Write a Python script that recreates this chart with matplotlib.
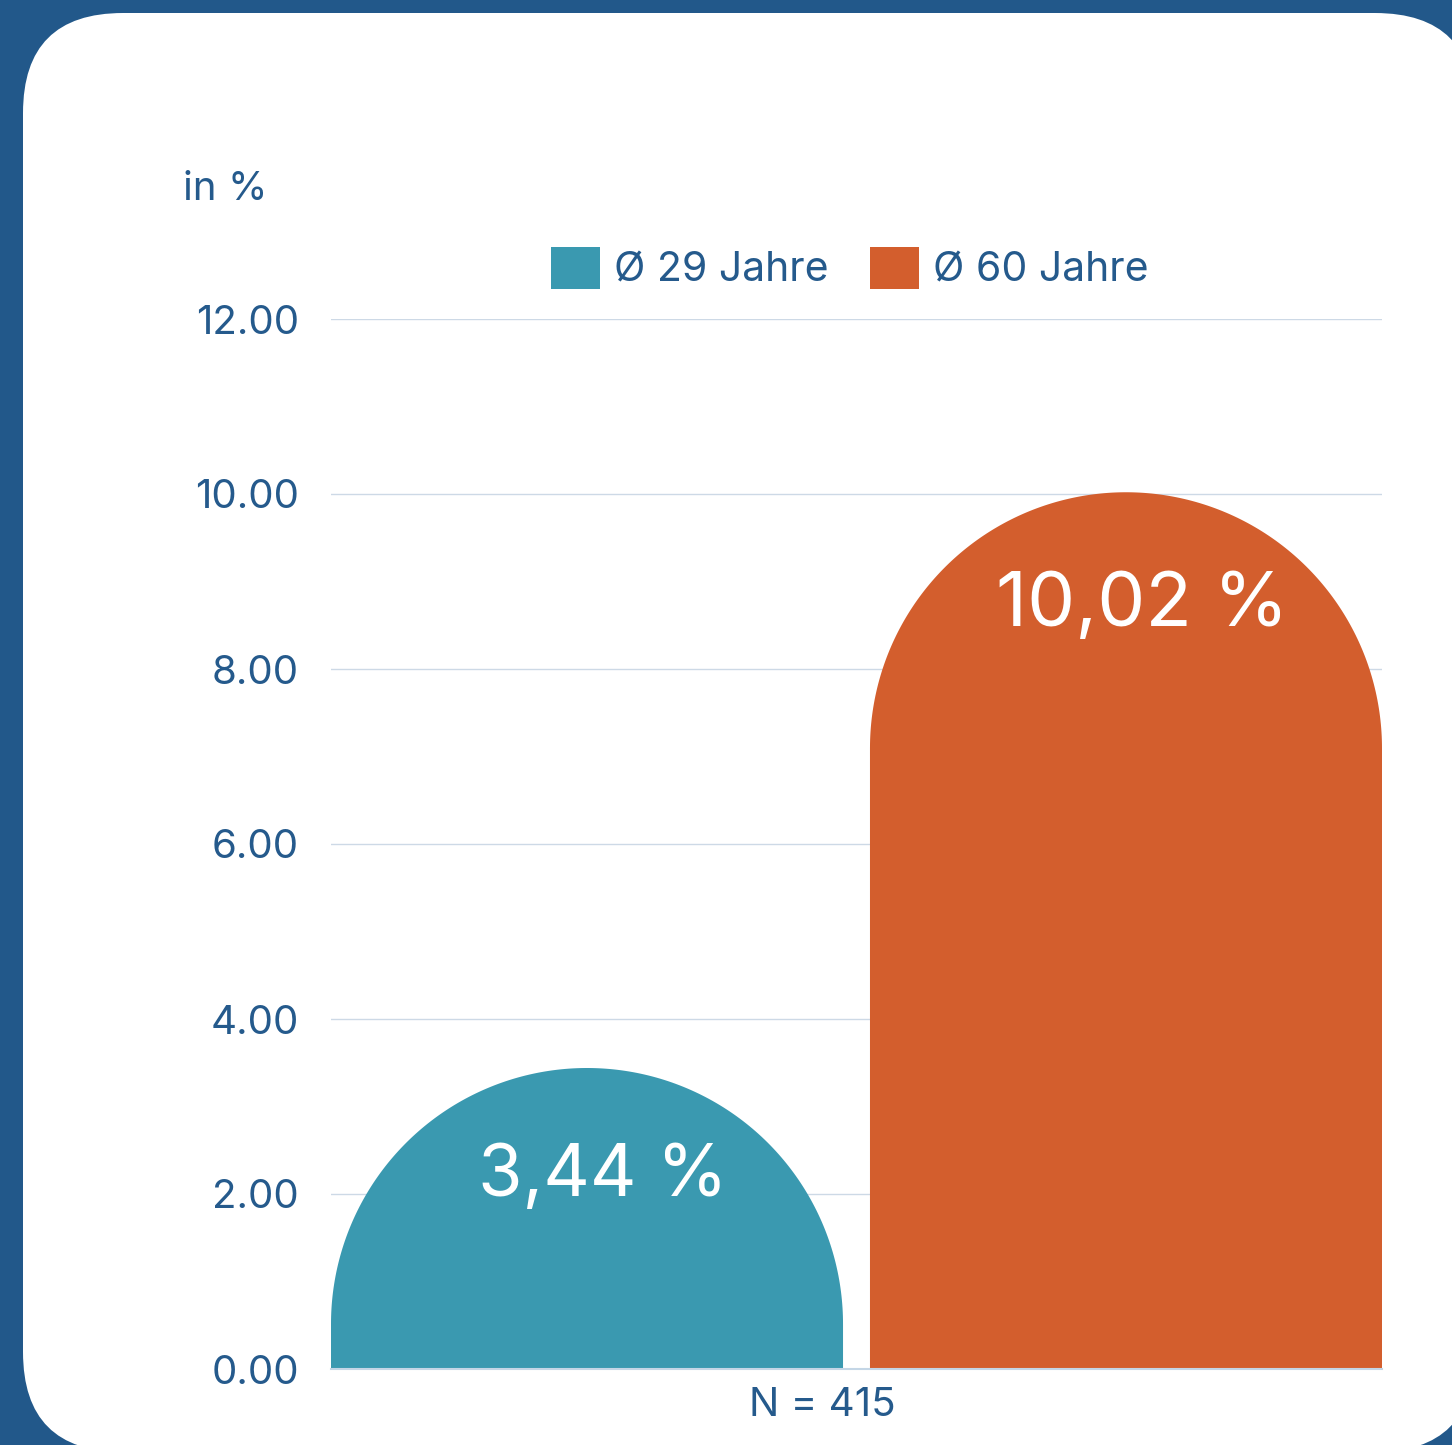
import matplotlib
matplotlib.use("Agg")
import matplotlib.pyplot as plt
import numpy as np
from matplotlib.patches import FancyBboxPatch, Polygon, Patch

# ---- data ----
categories = ["Ø 29 Jahre", "Ø 60 Jahre"]
values = [3.44, 10.02]
value_labels = ["3,44 %", "10,02 %"]
yticks = [0, 2, 4, 6, 8, 10, 12]
ytick_labels = ["0.00", "2.00", "4.00", "6.00", "8.00", "10.00", "12.00"]
unit_label = "in %"
n_label = "N = 415"

colors = ["#3a99b0", "#d35e2d"]
bg_blue = "#22588a"
text_blue = "#255a8c"
grid_col = "#cdd9e6"

plt.rcParams['font.family'] = ['Inter', 'DejaVu Sans']

W, H = 1452, 1445
fig = plt.figure(figsize=(W / 100, H / 100), dpi=100)
fig.patch.set_facecolor(bg_blue)

# background panel in pixel space
bg = fig.add_axes([0, 0, 1, 1])
bg.set_xlim(0, W)
bg.set_ylim(H, 0)
bg.axis("off")
panel = FancyBboxPatch((23, 13), 1475 - 23, 1452 - 13,
                       boxstyle="round,pad=0,rounding_size=100",
                       facecolor="white", edgecolor="none")
bg.add_patch(panel)

# main axes
x0, x1 = 331, 1382
ybot, ytop = 1369, 319
ax = fig.add_axes([x0 / W, (H - ybot) / H, (x1 - x0) / W, (ybot - ytop) / H])
ax.set_facecolor("none")
ax.set_ylim(0, 12)
ax.set_xlim(-0.475, 1.475)

width = 0.95
# radius: half bar width in pixel space, converted to y data units
px_per_x = (x1 - x0) / (1.475 + 0.475)
px_per_y = (ybot - ytop) / 12.0
rx = width / 2
ry = rx * px_per_x / px_per_y

label_sizes = [52, 55]
for i, (v, c) in enumerate(zip(values, colors)):
    cx = i
    cy = v - ry
    theta = np.linspace(0, np.pi, 200)
    arc_x = cx + rx * np.cos(theta)
    arc_y = cy + ry * np.sin(theta)
    xs = np.concatenate([[cx + rx], arc_x, [cx - rx]])
    ys = np.concatenate([[0], arc_y, [0]])
    ax.add_patch(Polygon(np.column_stack([xs, ys]), closed=True,
                         facecolor=c, edgecolor="none", zorder=3))
    ax.text(cx + 0.03, v - 1.25 - 0.06 * i, value_labels[i], color="white",
            fontsize=label_sizes[i], ha="center", va="center", zorder=4)

ax.set_yticks(yticks)
ax.set_yticklabels(ytick_labels, fontsize=29, color=text_blue)
ax.set_xticks([])
ax.tick_params(axis="y", length=0, pad=23)
ax.grid(axis="y", color=grid_col, linewidth=1.0, zorder=0)
for s in ["top", "right", "left"]:
    ax.spines[s].set_visible(False)
ax.spines["bottom"].set_color("#c4d6e6")
ax.spines["bottom"].set_linewidth(1.5)
ax.spines["bottom"].set_zorder(5)

fig.text(183 / W, 1 - 189 / H, unit_label, fontsize=29, color=text_blue,
         ha="left", va="center")
fig.text(822 / W, 1 - 1406 / H, n_label, fontsize=29, color=text_blue,
         ha="center", va="center")

handles = [Patch(facecolor=c, edgecolor="none", label=l) for c, l in zip(colors, categories)]
leg = fig.legend(handles=handles, loc="center", bbox_to_anchor=(850 / W, 1 - 268 / H),
                 ncol=2, frameon=False, fontsize=29.5, handlelength=1.2,
                 handleheight=1.2, handletextpad=0.35, columnspacing=1.0,
                 borderaxespad=0)
for t in leg.get_texts():
    t.set_color(text_blue)

fig.savefig("out.png", dpi=100, facecolor=bg_blue)
